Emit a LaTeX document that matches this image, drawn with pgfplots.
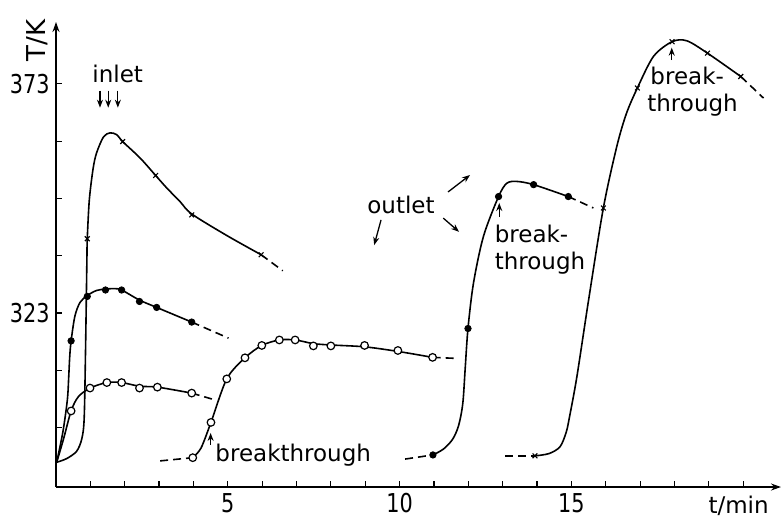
\documentclass[border=0pt]{standalone}
\usepackage{fontspec}
\setmainfont{DejaVu Sans}
\newfontfamily\tickfont{DejaVu Sans}[FakeStretch=0.8]
\usepackage{pgfplots}
\pgfplotsset{compat=1.18}
\usetikzlibrary{arrows.meta}
\newcommand{\annf}{\fontsize{11.5}{13.8}\selectfont}
\newcommand{\tickf}{\tickfont\fontsize{13}{13}\selectfont}
\pgfplotsset{
  cur/.style={black, line width=0.8pt, smooth, tension=0.5, mark=none},
  dsh/.style={black, line width=0.8pt, dash pattern=on 4pt off 2.5pt, mark=none},
  mx/.style={black, only marks, mark=x, mark size=1.7pt, mark options={line width=0.6pt}},
  mf/.style={black, only marks, mark=*, mark size=1.6pt},
  mo/.style={black, only marks, mark=*, mark size=1.9pt, mark options={fill=white, draw=black, line width=0.6pt}},
}
\tikzset{ann/.style={black, line width=0.65pt, -{Stealth[length=4pt,width=3pt]}}}
\begin{document}
\begin{tikzpicture}
\path[use as bounding box] (0,0) rectangle (391pt,-260.5pt);
\begin{axis}[
  at={(28pt,-243.5pt)}, anchor=south west, scale only axis,
  width=362.5pt, height=232.5pt,
  xmin=0, xmax=21.1, ymin=285, ymax=386.5,
  axis lines=left,
  axis line style={line width=0.8pt, -{Stealth[length=5pt,width=3.5pt]}},
  clip=false,
  xtick={5,10,15}, minor xtick={1,2,3,4,6,7,8,9,11,12,13,14,16,17,18,19,20},
  ytick={323,373}, minor ytick={298,310.5,335.5,348,360.5},
  tick align=inside, major tick length=3pt, minor tick length=3pt,
  every tick/.style={line width=0.6pt, black},
  xticklabel style={font=\tickf, inner sep=0pt, yshift=-3pt},
  yticklabel style={font=\tickf, inner sep=0pt, xshift=-3pt},
  /pgf/number format/assume math mode=true,
]
% Curve A: inlet, crosses
\addplot[cur] coordinates {(0.02,290.4)(0.31,291.2)(0.60,292.8)(0.75,295.5)(0.82,300)(0.86,315)(0.90,335)(0.91,339.2)(0.97,347.7)(1.08,354.5)(1.18,357.9)(1.38,361.4)(1.57,362.3)(1.77,361.9)(1.94,360.4)(2.45,356.8)(2.90,353.0)(3.22,350.3)(3.61,347.3)(3.95,344.6)(4.97,339.9)(5.97,335.7)};
\addplot[dsh] coordinates {(5.97,335.7)(6.6,332.2)};
\addplot[mx] coordinates {(0.91,339.2)(1.94,360.4)(2.90,353.0)(3.95,344.4)(5.97,335.7)};
% Curve B: inlet, filled
\addplot[cur] coordinates {(0.02,290.4)(0.2,297)(0.33,304)(0.37,309)(0.40,313.5)(0.44,316.9)(0.55,322.3)(0.70,325.3)(0.91,326.8)(1.18,327.9)(1.44,328.2)(1.70,328.3)(1.91,328.0)(2.43,325.8)(2.93,324.2)(3.95,321.0)};
\addplot[dsh] coordinates {(3.95,321.0)(5.02,317.5)};
\addplot[mf] coordinates {(0.44,316.9)(0.91,326.6)(1.44,328.0)(1.91,328.0)(2.43,325.5)(2.93,324.2)(3.95,321.0)};
% Curve C: inlet, open
\addplot[cur] coordinates {(0.02,290.4)(0.22,295.5)(0.44,301.6)(0.65,304.7)(0.99,306.6)(1.48,307.8)(1.91,307.8)(2.43,307.0)(2.95,306.8)(3.95,305.5)};
\addplot[dsh] coordinates {(3.95,305.5)(4.63,304.0)};
\addplot[mo] coordinates {(0.44,301.6)(0.99,306.6)(1.48,307.8)(1.91,307.8)(2.43,306.6)(2.95,306.8)(3.95,305.5)};
% Curve D: outlet, open
\addplot[dsh] coordinates {(3.03,290.7)(3.98,291.4)};
\addplot[cur] coordinates {(3.98,291.4)(4.22,293.5)(4.51,299.1)(4.97,308.6)(5.50,313.2)(5.99,315.9)(6.50,317.1)(6.96,317.1)(7.49,316.3)(8.0,316.0)(8.98,315.6)(9.95,314.6)(10.96,313.3)};
\addplot[dsh] coordinates {(10.96,313.3)(11.57,313.1)};
\addplot[mo] coordinates {(3.98,291.4)(4.51,299.1)(4.97,308.6)(5.50,313.2)(5.99,315.9)(6.50,317.1)(6.96,317.1)(7.49,315.8)(8.0,315.8)(8.98,315.9)(9.95,314.8)(10.96,313.3)};
% Curve E: outlet, filled
\addplot[dsh] coordinates {(10.16,291.1)(10.97,292.0)};
\addplot[cur] coordinates {(10.97,292.0)(11.28,293.3)(11.55,295.5)(11.72,298.5)(11.84,303.3)(11.91,311)(11.99,319.6)(12.15,329.5)(12.44,339.7)(12.88,348.4)(13.12,351.3)(13.41,351.7)(13.9,351.0)(14.91,348.4)};
\addplot[dsh] coordinates {(14.91,348.4)(15.64,345.9)};
\addplot[mf] coordinates {(10.97,292.0)(11.99,319.6)(12.88,348.4)(13.9,351.0)(14.91,348.4)};
% Curve F: outlet, crosses
\addplot[dsh] coordinates {(13.07,291.8)(13.94,291.8)};
\addplot[cur] coordinates {(13.94,291.8)(14.35,292.3)(14.67,293.8)(14.85,297)(14.95,300.5)(15.16,309.1)(15.5,325.8)(15.93,345.9)(16.32,359.3)(16.6,366.5)(16.92,372.1)(17.39,379.0)(17.93,382.2)(18.36,382.4)(18.96,379.7)(19.93,374.6)};
\addplot[dsh] coordinates {(19.93,374.6)(20.59,369.9)};
\addplot[mx] coordinates {(13.94,291.8)(15.93,345.9)(16.92,372.1)(17.93,382.2)(18.96,379.7)(19.93,374.6)};
% Labels
\node[anchor=base west, rotate=90, inner sep=0pt, font=\fontsize{13}{13}\selectfont] at (axis cs:-0.32,377.8) {T/K};
\node[anchor=base west, inner sep=0pt, font=\annf] at (axis cs:18.98,279.3) {t/min};
\node[anchor=base west, inner sep=0pt, font=\annf] at (axis cs:1.05,373.4) {inlet};
\draw[ann] (axis cs:1.28,371.5) -- (axis cs:1.28,367.8);
\draw[ann] (axis cs:1.52,371.5) -- (axis cs:1.52,367.8);
\draw[ann] (axis cs:1.80,371.5) -- (axis cs:1.80,367.8);
\node[anchor=base west, inner sep=0pt, font=\annf] at (axis cs:9.05,344.8) {outlet};
\draw[ann] (axis cs:11.41,349.4) -- (axis cs:12.05,353.1);
\draw[ann] (axis cs:11.27,343.7) -- (axis cs:11.73,340.7);
\draw[ann] (axis cs:9.46,343.3) -- (axis cs:9.26,337.8);
\node[anchor=base west, inner sep=0pt, font=\annf] at (axis cs:4.63,290.5) {breakthrough};
\draw[ann] (axis cs:4.50,294.2) -- (axis cs:4.50,296.8);
\node[anchor=base west, inner sep=0pt, font=\annf] at (axis cs:12.76,338.3) {break-};
\node[anchor=base west, inner sep=0pt, font=\annf] at (axis cs:12.76,332.4) {through};
\draw[ann] (axis cs:12.9,344.0) -- (axis cs:12.9,347.0);
\node[anchor=base west, inner sep=0pt, font=\annf] at (axis cs:17.29,372.8) {break-};
\node[anchor=base west, inner sep=0pt, font=\annf] at (axis cs:17.2,367.0) {through};
\draw[ann] (axis cs:17.92,378.2) -- (axis cs:17.92,380.9);
\end{axis}
\end{tikzpicture}
\end{document}
